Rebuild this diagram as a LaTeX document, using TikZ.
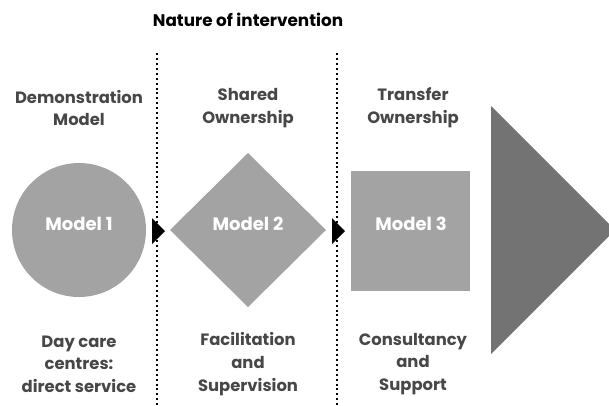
\documentclass[tikz,border=0pt]{standalone}
\usepackage{fontspec}
\setmainfont{Poppins}
\usetikzlibrary{shapes.geometric}
\definecolor{shapegray}{HTML}{A3A3A3}
\definecolor{darkgray}{HTML}{737373}
\definecolor{labelgray}{HTML}{474747}
\begin{document}
\begin{tikzpicture}[x=0.75pt,y=-0.75pt,
  lbl/.style={font=\fontsize{12.3}{17}\selectfont\bfseries, text=labelgray, align=center},
  mlbl/.style={font=\fontsize{13.5}{16}\selectfont\bfseries, text=white},
  sep/.style={line width=1.5pt, dash pattern=on 1.5pt off 2.2pt, black},
  tip/.style={fill=black}]
\useasboundingbox (0,0) rectangle (609,405);
% title
\node[font=\fontsize{12.6}{15}\selectfont\bfseries, text=black] (title) at (248,20) {Nature of intervention};
% separators
\coordinate (s1t) at (157,53); \coordinate (s1b) at (157,405);
\coordinate (s2t) at (337,53); \coordinate (s2b) at (337,405);
\draw[sep] (s1t) -- (s1b);
\draw[sep] (s2t) -- (s2b);
% shapes
\fill[shapegray] (79,230) circle [radius=67];
\node[mlbl] (m1) at (79,224) {Model 1};
\fill[shapegray] (170,230) -- (248,153) -- (326,230) -- (248,307) -- cycle;
\node[mlbl] (m2) at (248,224) {Model 2};
\fill[shapegray] (351,171) rectangle (470,291);
\node[mlbl] (m3) at (411,224) {Model 3};
\fill[darkgray] (491,106) -- (615,230) -- (491,354) -- cycle;
% small arrow tips
\fill[tip] (152,218) -- (165,231) -- (152,244) -- cycle;
\fill[tip] (332,218) -- (345,231) -- (332,244) -- cycle;
% top labels
\node[lbl] (t1) at (79,108) {Demonstration\\Model};
\node[lbl] (t2) at (248,108) {Shared\\Ownership};
\node[lbl] (t3) at (413,108) {Transfer\\Ownership};
% bottom labels
\node[lbl] (b1) at (79,364) {Day care\\centres:\\direct service};
\node[lbl] (b2) at (248,364) {Facilitation\\and\\Supervision};
\node[lbl] (b3) at (413,364) {Consultancy\\and\\Support};
\end{tikzpicture}
\end{document}
